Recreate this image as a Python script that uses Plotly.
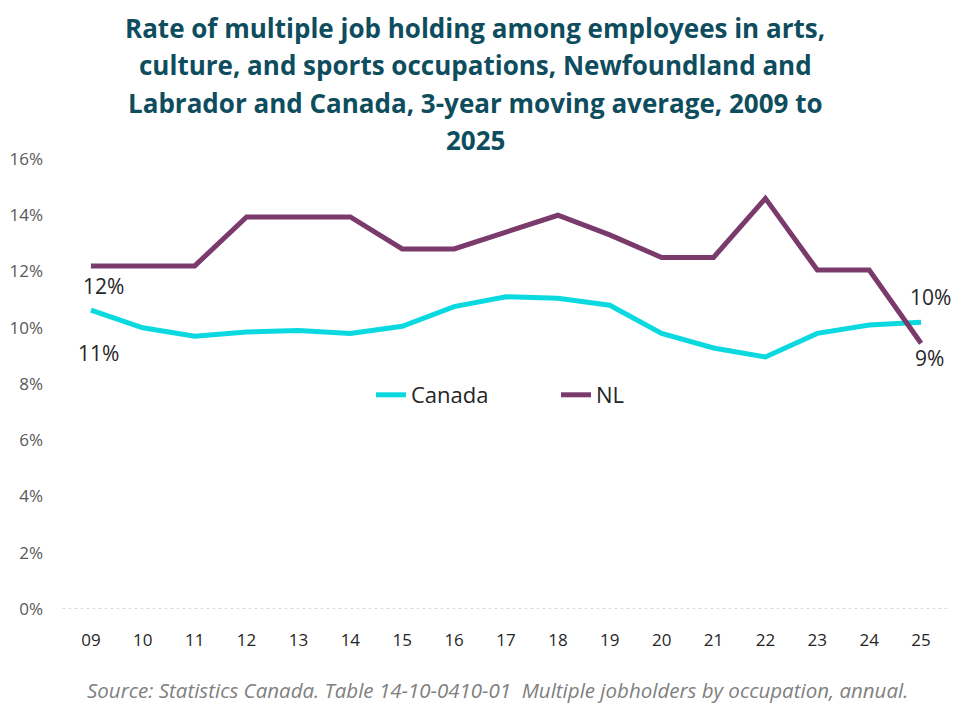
import plotly.graph_objects as go

years = ["09", "10", "11", "12", "13", "14", "15", "16", "17", "18", "19", "20", "21", "22", "23", "24", "25"]
canada = [10.63, 10.0, 9.7, 9.85, 9.9, 9.8, 10.05, 10.75, 11.1, 11.05, 10.8, 9.8, 9.28, 8.96, 9.8, 10.1, 10.2]
nl = [12.2, 12.2, 12.2, 13.94, 13.94, 13.94, 12.8, 12.8, 13.4, 14.0, 13.3, 12.5, 12.5, 14.6, 12.05, 12.05, 9.45]
title_lines = [
    "Rate of multiple job holding among employees in arts,",
    "culture, and sports occupations, Newfoundland and",
    "Labrador and Canada, 3-year moving average, 2009 to",
    "2025",
]
source = "Source: Statistics Canada. Table 14-10-0410-01  Multiple jobholders by occupation, annual."
y_ticks = [0, 2, 4, 6, 8, 10, 12, 14, 16]
y_ticktext = [f"{v}%" for v in y_ticks]

C_CAN = "#0AD9DF"
C_NL = "#7A3A6C"
FONT = "Open Sans"

W, H = 963, 716
ML, MR = 65, 16
MT, MB = 159, 107
HP = H - MT - MB
WP = W - ML - MR


def py_to_paper(py):
    return (H - MB - py) / HP


def px_to_paper(px):
    return (px - ML) / WP


fig = go.Figure()
fig.add_trace(go.Scatter(x=years, y=canada, name="Canada", mode="lines",
                         line=dict(color=C_CAN, width=5)))
fig.add_trace(go.Scatter(x=years, y=nl, name="NL", mode="lines",
                         line=dict(color=C_NL, width=5)))

# end labels (x given as category index)
labels = [
    (0, nl[0], 13, -20),
    (0, canada[0], 8, -43),
    (len(years) - 1, canada[-1], 9, 25),
    (len(years) - 1, nl[-1], 8, -15),
]
for xi, y, xs, ys in labels:
    fig.add_annotation(x=xi, y=y, xref="x", yref="y", text=f"{round(y):.0f}%", showarrow=False,
                       xshift=xs, yshift=ys,
                       font=dict(family=FONT, size=21, color="#262626"))

# title lines
title_y = [28, 65, 103, 140]
for t, yy in zip(title_lines, title_y):
    fig.add_annotation(x=px_to_paper(475), xref="paper", y=py_to_paper(yy), yref="paper",
                       text=f"<b>{t}</b>", showarrow=False, xanchor="center", yanchor="middle",
                       font=dict(family=FONT, size=26, color="#0E4D5E"))

fig.add_annotation(x=px_to_paper(497), xref="paper", y=py_to_paper(690), yref="paper",
                   text=f"<i>{source}</i>",
                   showarrow=False, xanchor="center", yanchor="middle",
                   font=dict(family=FONT, size=20.5, color="#808080"))

fig.update_layout(
    width=W, height=H,
    margin=dict(l=ML, r=MR, t=MT, b=MB, autoexpand=False),
    paper_bgcolor="white", plot_bgcolor="white",
    showlegend=True,
    legend=dict(orientation="h", x=px_to_paper(371), xanchor="left", y=py_to_paper(395),
                yanchor="middle", entrywidth=140, entrywidthmode="pixels",
                font=dict(family=FONT, size=22, color="#262626"), bgcolor="rgba(0,0,0,0)"),
    xaxis=dict(type="category", range=[-0.5, 16.5], showgrid=False, showline=False,
               zeroline=False, ticks="", ticklabelstandoff=19, automargin=False,
               tickfont=dict(family=FONT, size=17, color="#262626")),
    yaxis=dict(range=[0, 16], tickmode="array", tickvals=y_ticks, ticktext=y_ticktext,
               showgrid=False, zeroline=False, showline=False, ticks="", ticklabelstandoff=21,
               automargin=False,
               tickfont=dict(family=FONT, size=17, color="#595959")),
)
fig.add_shape(type="line", xref="paper", yref="y", x0=-0.003, x1=1, y0=0, y1=0,
              line=dict(color="#D0D0D0", width=1.5, dash="dot"))

fig.write_html("out.html")
